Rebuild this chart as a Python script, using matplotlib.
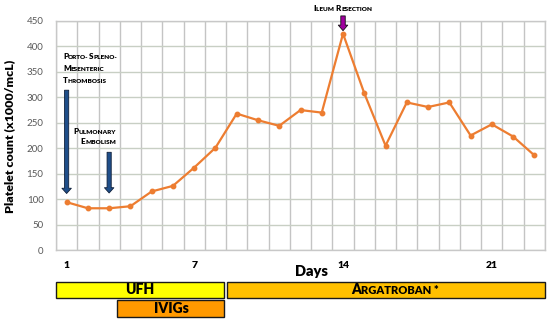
import matplotlib
matplotlib.use("Agg")
import matplotlib.pyplot as plt
from matplotlib.transforms import offset_copy, blended_transform_factory
from matplotlib.patches import Rectangle, FancyArrowPatch
import numpy as np

plt.rcParams['font.family'] = ['Lato', 'DejaVu Sans']

# ---- data ----
days = list(range(1, 24))
platelets = [94, 82, 82, 86, 115, 126, 162, 201, 268, 255, 244, 275, 270,
             425, 308, 205, 290, 281, 290, 225, 247, 223, 186]
xtick_days = [1, 7, 14, 21]
yticks = [0, 50, 100, 150, 200, 250, 300, 350, 400, 450]

# events: (day, arrow top value, arrow tip value)
event_pst = (1, 314, 111)
event_pe = (3, 192, 112)
event_ileum = (14, 460, 431)

# treatments: (label, start, end, row, color)
treatments = [
    ("UFH", 0.5, 8.4, 0, "#FFFF00"),
    ("IVIGs", 3.38, 8.4, 1, "#FF9900"),
    ("Argatroban *", 8.53, 23.5, 0, "#FFC000"),
]

W, H = 550, 321
fig = plt.figure(figsize=(W / 100, H / 100), dpi=100)
ax = fig.add_axes([56 / W, 1 - 250 / H, (545 - 56) / W, (250 - 21) / H])

ax.plot(days, platelets, color="#ED7D31", lw=1.6, marker="o", ms=3.2,
        zorder=5, clip_on=False)

ax.set_xlim(0.5, 23.5)
ax.set_ylim(0, 450)
ax.set_yticks(yticks)
ax.set_xticks(xtick_days)
ax.set_xticks(np.arange(0.5, 24, 1), minor=True)
ax.grid(False)
ax.grid(True, which="minor", axis="x", color="#c4c4c4", lw=1.0)
ax.grid(True, which="major", axis="y", color="#c8cfc4", lw=1.0)
for s in ax.spines.values():
    s.set_color("#c8c8c8")
    s.set_linewidth(1.0)
ax.tick_params(axis="both", which="both", length=0)
ax.tick_params(axis="y", labelsize=7, labelcolor="#595959", pad=9)
ax.tick_params(axis="x", labelsize=7.5, pad=8)
for lbl in ax.get_xticklabels():
    lbl.set_fontweight("heavy")


def fy(py):
    return 1 - py / H


def fx(px):
    return px / W


fig.text(fx(9.5), fy(136), "Platelet count (x1000/mcL)", rotation=90,
         ha="center", va="center", fontsize=8.9, fontweight="heavy")
fig.text(fx(311), fy(272), "Days", ha="center", va="center",
         fontsize=10.5, fontweight="heavy")

renderer = fig.canvas.get_renderer()


def _width(txt, size, weight):
    t = fig.text(0, 0, txt, fontsize=size, fontweight=weight)
    w = t.get_window_extent(renderer).width
    t.remove()
    return w


def smallcaps(x, y, s, size, transform, ha="left", weight="heavy",
              color="black", ratio=0.8):
    runs = []
    cur = ""
    cur_small = None
    for ch in s:
        if ch.isupper():
            small = False
        elif ch.islower():
            small = True
        else:
            small = cur_small if cur_small is not None else False
        if cur_small is None or small == cur_small:
            cur += ch
            cur_small = small
        else:
            runs.append((cur, cur_small))
            cur = ch
            cur_small = small
    if cur:
        runs.append((cur, cur_small))
    widths = []
    for txt, small in runs:
        sz = size * (ratio if small else 1)
        w = _width("I" + txt.upper() + "I", sz, weight) - _width("II", sz, weight)
        widths.append(w)
    total = sum(widths)
    start = 0.0
    if ha == "center":
        start = -total / 2
    elif ha == "right":
        start = -total
    dx = start
    for (txt, small), w in zip(runs, widths):
        tr = offset_copy(transform, fig=fig, x=dx, y=0, units="dots")
        fig.text(x, y, txt.upper(), fontsize=size * (ratio if small else 1),
                 fontweight=weight, transform=tr, va="baseline", ha="left",
                 color=color)
        dx += w


ft = fig.transFigure
smallcaps(fx(63), fy(59), "Porto-Spleno-", 5.8, ft)
smallcaps(fx(63), fy(71), "Mesenteric", 5.8, ft)
smallcaps(fx(63), fy(83), "Thrombosis", 5.8, ft)
smallcaps(fx(116), fy(133.5), "Pulmonary", 5.8, ft, ha="right")
smallcaps(fx(116), fy(144.5), "Embolism", 5.8, ft, ha="right")
smallcaps(fx(343), fy(11), "Ileum Resection", 5.8, ft, ha="center")

# arrows
blue_style = "simple,head_length=0.38,head_width=0.68,tail_width=0.3"
for day, top, tip in (event_pst, event_pe):
    a = FancyArrowPatch((day, top), (day, tip), arrowstyle=blue_style,
                        mutation_scale=10, facecolor="#1F4E89",
                        edgecolor="#10203a", lw=0.6, clip_on=False, zorder=6,
                        shrinkA=0, shrinkB=0)
    ax.add_patch(a)
mag_style = "simple,head_length=0.4,head_width=0.68,tail_width=0.32"
a = FancyArrowPatch((event_ileum[0], event_ileum[1]),
                    (event_ileum[0], event_ileum[2]), arrowstyle=mag_style,
                    mutation_scale=10, facecolor="#A0009F", edgecolor="#111111",
                    lw=0.6, clip_on=False, zorder=6, shrinkA=0, shrinkB=0)
ax.add_patch(a)

# treatment bars
bt = blended_transform_factory(ax.transData, ft)
row_y = [(281.7, 298.3), (300.0, 316.7)]
for label, start, end, row, color in treatments:
    top, bot = row_y[row]
    r = Rectangle((start, fy(bot)), end - start, (bot - top) / H,
                  transform=bt, facecolor=color, edgecolor="#1a1a1a",
                  lw=1.0, clip_on=False)
    fig.add_artist(r)

fig.text(140 / W, fy(290), "UFH", ha="center", va="center",
         fontsize=10, fontweight="heavy")
fig.text(171.5 / W, fy(308.5), "IVIGs", ha="center", va="center",
         fontsize=10, fontweight="heavy")
smallcaps(fx(395), fy(294), "Argatroban *", 10, ft, ha="center")

fig.savefig("out.png", dpi=100)
